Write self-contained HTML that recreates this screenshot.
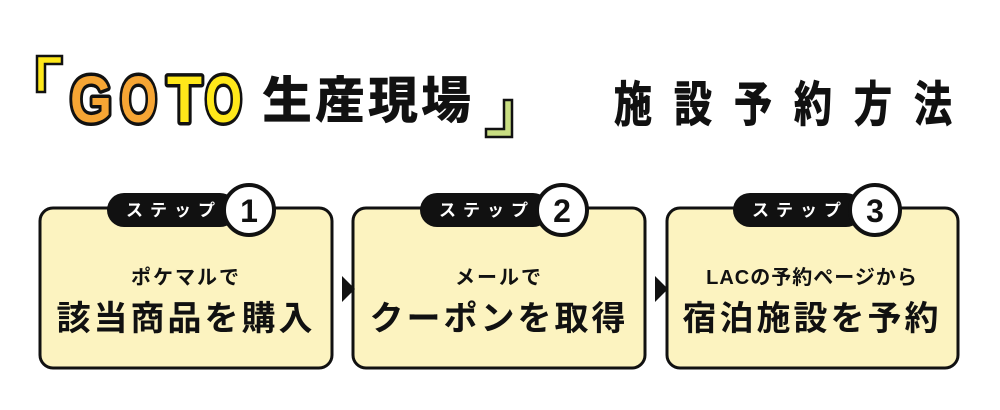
<!DOCTYPE html>
<html><head><meta charset="utf-8"><style>
html,body{margin:0;padding:0;background:#fff;width:1000px;height:410px;overflow:hidden}
svg{display:block}
text{font-family:"Liberation Sans","Noto Sans CJK JP",sans-serif}
</style></head><body>
<svg width="1000" height="410" viewBox="0 0 1000 410" xmlns="http://www.w3.org/2000/svg">
<!-- brackets -->
<path d="M37 56 H62 V64 H45 V92 H37 Z" fill="#ffe81a" stroke="#111" stroke-width="2.5"/>
<path d="M512 137 H486 V129 H504 V100 H512 Z" fill="#c9de82" stroke="#111" stroke-width="2.5"/>
<!-- GoTo -->
<g font-weight="bold" font-size="66" stroke="#111" stroke-width="7" paint-order="stroke" stroke-linejoin="round">
<text x="70" y="122" fill="#f6a534" textLength="42" lengthAdjust="spacingAndGlyphs">G</text>
<text x="120" y="122" fill="#f6a534" textLength="37" lengthAdjust="spacingAndGlyphs">O</text>
<text x="167" y="122" fill="#ffe81a" textLength="35" lengthAdjust="spacingAndGlyphs">T</text>
<text x="205" y="122" fill="#ffe81a" textLength="37" lengthAdjust="spacingAndGlyphs">O</text>
</g>
<text x="262" y="118" font-size="50" font-weight="900" fill="#111" letter-spacing="3">生産現場</text>
<g font-size="48" font-weight="bold" fill="#111" stroke="#111" stroke-width="1">
<text x="614" y="121" textLength="38" lengthAdjust="spacingAndGlyphs">施</text>
<text x="674" y="121" textLength="38" lengthAdjust="spacingAndGlyphs">設</text>
<text x="734" y="121" textLength="38" lengthAdjust="spacingAndGlyphs">予</text>
<text x="794" y="121" textLength="38" lengthAdjust="spacingAndGlyphs">約</text>
<text x="854" y="121" textLength="38" lengthAdjust="spacingAndGlyphs">方</text>
<text x="914" y="121" textLength="38" lengthAdjust="spacingAndGlyphs">法</text>
</g>
<!-- boxes -->
<g stroke="#111" stroke-width="3" fill="#fcf3c0">
<rect x="40" y="208" width="292" height="160" rx="13"/>
<rect x="353" y="208" width="292" height="160" rx="13"/>
<rect x="667" y="208" width="291" height="160" rx="13"/>
</g>
<path d="M342 276 L355 289 L342 302 Z" fill="#111"/>
<path d="M655 276 L668 289 L655 302 Z" fill="#111"/>
<!-- pills -->
<g fill="#111">
<rect x="107" y="193" width="130" height="34" rx="17"/>
<rect x="420" y="193" width="130" height="34" rx="17"/>
<rect x="733" y="193" width="130" height="34" rx="17"/>
</g>
<g fill="#fff" font-size="17" font-weight="bold" letter-spacing="7">
<text x="126" y="216">ステップ</text>
<text x="439" y="216">ステップ</text>
<text x="752" y="216">ステップ</text>
</g>
<g fill="#fff" stroke="#111" stroke-width="4">
<circle cx="249" cy="210" r="25"/>
<circle cx="562" cy="210" r="25"/>
<circle cx="875" cy="210" r="25"/>
</g>
<g fill="#111" font-size="32" font-weight="bold" text-anchor="middle">
<text x="249" y="222">1</text>
<text x="562" y="222">2</text>
<text x="875" y="222">3</text>
</g>
<!-- texts -->
<g fill="#111" font-size="20" font-weight="bold" text-anchor="middle">
<text x="186" y="284" letter-spacing="2">ポケマルで</text>
<text x="499" y="284" letter-spacing="2">メールで</text>
<text x="812" y="284" letter-spacing="1">LACの予約ページから</text>
</g>
<g fill="#111" font-size="34" font-weight="bold" text-anchor="middle" letter-spacing="3">
<text x="186" y="330">該当商品を購入</text>
<text x="499" y="330">クーポンを取得</text>
<text x="812" y="330">宿泊施設を予約</text>
</g>
</svg>
</body></html>
